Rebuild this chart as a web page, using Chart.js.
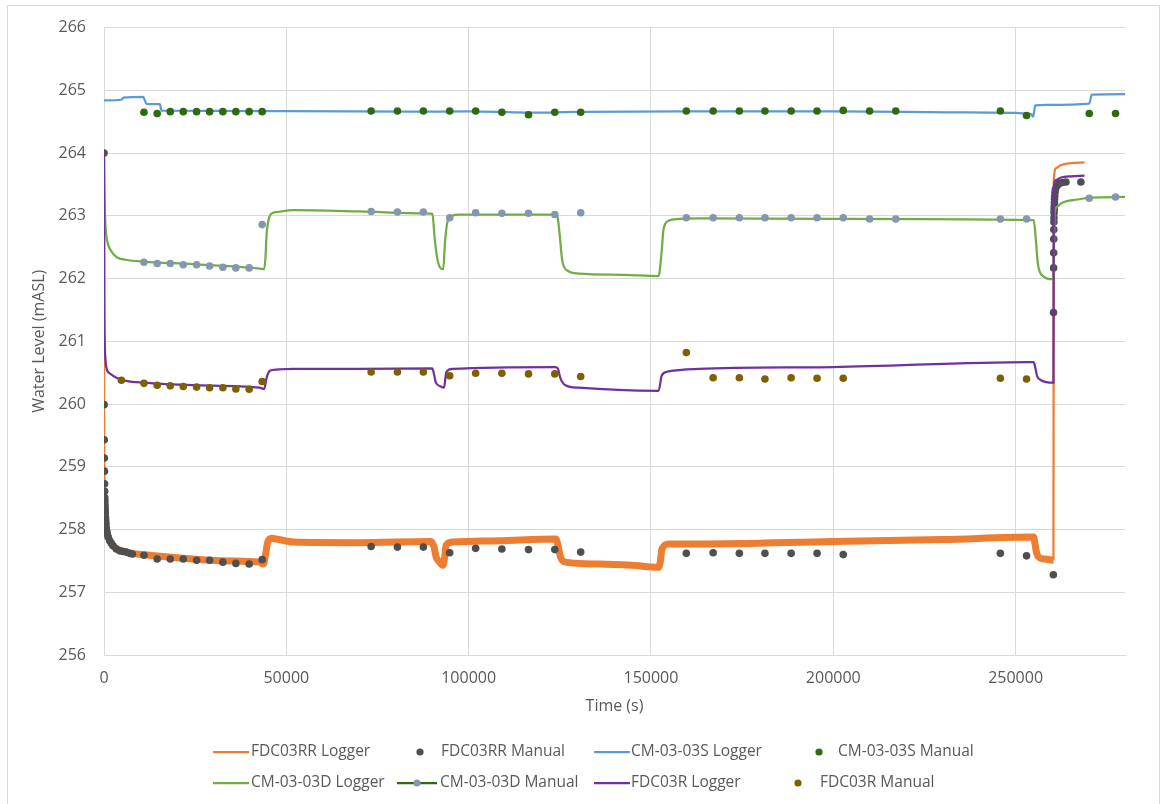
<!DOCTYPE html>
<html>
<head>
<meta charset="utf-8">
<script src="https://cdn.jsdelivr.net/npm/chart.js@4.4.1/dist/chart.umd.min.js"></script>
<style>
  html, body { margin: 0; padding: 0; background: #ffffff; }
  #wrap { position: relative; width: 1165px; height: 804px; }
  canvas { display: block; }
</style>
</head>
<body>
<div id="wrap"><canvas id="chart" width="1165" height="804"></canvas></div>
<script>
// ---- Pumping test water levels (time in s, level in mASL) ----

// FDC03RR pumping well – data logger
const fdc03rrLoggerTime = [0, 15, 30, 60, 90, 120, 180, 240, 360, 480, 600, 900, 1500, 2400, 3400, 5000, 7500,
  10760, 16000, 24350, 34000, 42700, 43700, 44300, 44900, 46000, 47200, 52000, 70000, 89700, 90500, 91100,
  92000, 92900, 93400, 93820, 95600, 108400, 123900, 124600, 125200, 126600, 135700, 144800, 152100, 152600,
  153000, 154900, 163100, 200000, 230000, 254900, 255300, 255700, 256550, 258000, 260380, 260460, 261100,
  262460, 265200, 268900];
const fdc03rrLoggerLevel = [263.90, 261.50, 260.00, 259.42, 259.13, 258.92, 258.60, 258.45, 258.25, 258.13, 258.03, 257.93, 257.83, 257.75, 257.70, 257.66, 257.62,
  257.60, 257.57, 257.53, 257.50, 257.48, 257.45, 257.60, 257.80, 257.86, 257.85, 257.80, 257.79, 257.81, 257.72, 257.56,
  257.48, 257.43, 257.55, 257.75, 257.80, 257.82, 257.85, 257.72, 257.56, 257.48, 257.45, 257.43, 257.40, 257.50,
  257.69, 257.77, 257.77, 257.81, 257.84, 257.88, 257.78, 257.64, 257.55, 257.53, 257.51, 263.55, 263.76,
  263.81, 263.84, 263.85];

// FDC03RR pumping well – manual dips
const fdc03rrManualTime = [0, 30, 60, 90, 120, 150, 180, 210, 240, 270, 300, 330, 360, 420, 480, 540, 600, 720, 900,
  1150, 1560, 2020, 2460, 3380, 4290, 5200, 6130, 7040, 7770,
  10960, 14580, 18170, 21740, 25390, 28960, 32600, 36160, 39810, 43380,
  73260, 80470, 87580, 94800, 101920, 109110, 116420, 123620, 130730,
  159700, 167050, 174240, 181260, 188440, 195550, 202730, 245820, 253000,
  260350, 260400, 260420, 260440, 260460, 260480, 260500, 260520, 260540, 260570, 260600, 260640, 260680,
  260730, 260800, 260900, 261300, 261900, 262800, 263800, 267900];
const fdc03rrManualLevel = [264.00, 259.99, 259.43, 259.14, 258.93, 258.73, 258.61, 258.51, 258.46, 258.40, 258.35, 258.30, 258.25, 258.19, 258.14, 258.09, 258.03, 257.98, 257.93,
  257.88, 257.82, 257.78, 257.74, 257.69, 257.66, 257.65, 257.64, 257.62, 257.61,
  257.59, 257.53, 257.53, 257.53, 257.51, 257.51, 257.48, 257.46, 257.45, 257.52,
  257.73, 257.72, 257.72, 257.63, 257.70, 257.69, 257.68, 257.68, 257.64,
  257.62, 257.63, 257.62, 257.62, 257.62, 257.62, 257.60, 257.62, 257.58,
  257.28, 261.46, 262.17, 262.41, 262.63, 262.78, 262.90, 262.97, 263.05, 263.10, 263.15, 263.21, 263.26,
  263.31, 263.37, 263.42, 263.47, 263.51, 263.53, 263.54, 263.54];

// CM-03-03S shallow monitoring bore – data logger
const cm0303sLoggerTime = [0, 4800, 5300, 10760, 11200, 11700, 15300, 15800, 50000, 83800, 100000, 116000, 130000,
  160000, 200000, 231500, 249900, 253000, 254300, 254800, 255400, 258800, 270200, 270900, 280000];
const cm0303sLoggerLevel = [264.84, 264.85, 264.885, 264.895, 264.84, 264.78, 264.78, 264.675, 264.67, 264.66, 264.665, 264.645, 264.655,
  264.665, 264.665, 264.65, 264.64, 264.63, 264.62, 264.58, 264.76, 264.77, 264.79, 264.93, 264.94];

// CM-03-03S – manual dips
const cm0303sManualTime = [10960, 14580, 18170, 21740, 25390, 28960, 32600, 36160, 39810, 43380,
  73260, 80470, 87580, 94800, 101920, 109110, 116420, 123620, 130730,
  159700, 167050, 174240, 181260, 188440, 195550, 202730, 209950, 217130, 245820, 253000, 270200, 277400];
const cm0303sManualLevel = [264.65, 264.63, 264.66, 264.66, 264.66, 264.66, 264.66, 264.66, 264.66, 264.66,
  264.67, 264.67, 264.67, 264.67, 264.67, 264.65, 264.61, 264.65, 264.65,
  264.67, 264.67, 264.67, 264.67, 264.67, 264.67, 264.68, 264.67, 264.67, 264.67, 264.60, 264.63, 264.63];

// CM-03-03D deep monitoring bore – data logger
const cm0303dLoggerTime = [0, 150, 400, 800, 1640, 3470, 6000, 10760, 24460, 42740, 43920, 44300, 44560, 45470, 46500,
  48200, 51800, 70000, 88230, 90040, 90780, 91600, 93050, 93510, 94150, 95520, 97350, 123810, 124300, 124900,
  125620, 126990, 130190, 142970, 152080, 152990, 153450, 154820, 157560, 163030, 200000, 254980, 255620,
  256080, 256990, 260380, 260700, 261500, 262500, 267020, 270660, 280000];
const cm0303dLoggerLevel = [263.95, 263.30, 262.85, 262.62, 262.47, 262.34, 262.30, 262.27, 262.23, 262.16, 262.15, 262.35, 262.68, 263.00, 263.05,
  263.065, 263.09, 263.07, 263.04, 263.03, 262.58, 262.26, 262.15, 262.58, 262.89, 263.00, 263.02, 263.02, 263.00, 262.74,
  262.31, 262.13, 262.08, 262.06, 262.04, 262.47, 262.79, 262.92, 262.95, 262.96, 262.95, 262.93, 262.57,
  262.25, 262.07, 261.99, 263.05, 263.15, 263.20, 263.26, 263.29, 263.30];

// CM-03-03D – manual dips
const cm0303dManualTime = [10960, 14580, 18170, 21740, 25390, 28960, 32600, 36160, 39810, 43380,
  73260, 80470, 87580, 94800, 101920, 109110, 116420, 123620, 130730,
  159700, 167050, 174240, 181260, 188440, 195550, 202730, 209950, 217130, 245820, 253000, 270200, 277400];
const cm0303dManualLevel = [262.26, 262.24, 262.24, 262.22, 262.22, 262.20, 262.18, 262.17, 262.17, 262.86,
  263.07, 263.06, 263.06, 262.97, 263.05, 263.04, 263.04, 263.02, 263.05,
  262.97, 262.97, 262.97, 262.97, 262.97, 262.97, 262.97, 262.95, 262.95, 262.95, 262.95, 263.28, 263.30];

// FDC03R observation well – data logger
const fdc03rLoggerTime = [0, 100, 200, 350, 700, 1150, 1560, 3380, 6130, 10760, 24460, 42740, 43920, 44560, 45470,
  47300, 51800, 70000, 90000, 90500, 90960, 92330, 93240, 93880, 95520, 123900, 124500, 125180, 126540, 130190,
  152080, 152990, 154820, 163030, 200000, 253800, 254980, 255400, 255890, 256990, 260380, 260460, 261100,
  262460, 265200, 268900];
const fdc03rLoggerLevel = [264.00, 261.60, 261.00, 260.75, 260.57, 260.51, 260.49, 260.42, 260.37, 260.34, 260.30, 260.26, 260.24, 260.41, 260.53,
  260.55, 260.56, 260.56, 260.57, 260.48, 260.35, 260.28, 260.26, 260.51, 260.56, 260.59, 260.56, 260.41, 260.30, 260.26,
  260.21, 260.46, 260.52, 260.56, 260.59, 260.67, 260.67, 260.58, 260.45, 260.38, 260.34, 263.45, 263.57,
  263.61, 263.63, 263.64];

// FDC03R – manual dips
const fdc03rManualTime = [4770, 10960, 14580, 18170, 21740, 25390, 28960, 32600, 36160, 39810, 43380,
  73260, 80470, 87580, 94800, 101920, 109110, 116420, 123620, 130730,
  159700, 167050, 174240, 181260, 188440, 195550, 202730, 245820, 253000];
const fdc03rManualLevel = [260.38, 260.33, 260.30, 260.29, 260.28, 260.27, 260.26, 260.26, 260.24, 260.235, 260.36,
  260.51, 260.51, 260.51, 260.45, 260.49, 260.49, 260.48, 260.48, 260.44,
  260.82, 260.42, 260.42, 260.40, 260.42, 260.41, 260.41, 260.41, 260.40];

// Axis ranges and tick values
const timeRange = [0, 280000];
const levelRange = [256, 266];
const timeTicks = [0, 50000, 100000, 150000, 200000, 250000];
const levelTicks = [256, 257, 258, 259, 260, 261, 262, 263, 264, 265, 266];

const toPoints = (t, h) => t.map((x, i) => ({ x: x, y: h[i] }));

const TEXT = '#595959';
const GRID = '#D9D9D9';
const FONT = "'Open Sans', sans-serif";

Chart.defaults.font.family = FONT;
Chart.defaults.color = TEXT;
Chart.defaults.animation = false;

function loggerSet(label, t, h, color, order, extra) {
  return Object.assign({
    label: label,
    data: toPoints(t, h),
    showLine: true,
    borderColor: color,
    backgroundColor: color,
    borderWidth: 2.25,
    pointRadius: 0,
    pointHoverRadius: 0,
    cubicInterpolationMode: 'monotone',
    order: order
  }, extra || {});
}

function manualSet(label, t, h, color, order, extra) {
  return Object.assign({
    label: label,
    data: toPoints(t, h),
    showLine: false,
    borderColor: color,
    backgroundColor: color,
    pointBackgroundColor: color,
    pointBorderWidth: 0,
    pointRadius: 3.8,
    pointHoverRadius: 3.8,
    order: order
  }, extra || {});
}

const datasets = [
  loggerSet('FDC03RR Logger', fdc03rrLoggerTime, fdc03rrLoggerLevel, '#ED7D31', 7, {
    // the logger trace is noisy while pumping; drawn as a broad band
    borderJoinStyle: 'round',
    segment: {
      borderWidth: ctx => (ctx.p0.parsed.x < 500 || ctx.p0.parsed.x >= 260300) ? 2.25 : 7
    }
  }),
  manualSet('FDC03RR Manual', fdc03rrManualTime, fdc03rrManualLevel, '#4F4F4F', 6),
  loggerSet('CM-03-03S Logger', cm0303sLoggerTime, cm0303sLoggerLevel, '#5B9BD5', 5),
  manualSet('CM-03-03S Manual', cm0303sManualTime, cm0303sManualLevel, '#2E6A0E', 4),
  loggerSet('CM-03-03D Logger', cm0303dLoggerTime, cm0303dLoggerLevel, '#70AD47', 3),
  manualSet('CM-03-03D Manual', cm0303dManualTime, cm0303dManualLevel, '#8497B0', 2, { legendLineColor: '#2E6A0E' }),
  loggerSet('FDC03R Logger', fdc03rLoggerTime, fdc03rLoggerLevel, '#7030A0', 1),
  manualSet('FDC03R Manual', fdc03rManualTime, fdc03rManualLevel, '#7F6000', 0)
];

// Legend grid: [symbol centre x, row y, text x, sample half-length]
const legendSlots = [
  [231, 752, 251, 18], [420, 752, 441, 0], [612, 752, 631, 18], [819, 752, 838, 0],
  [231, 783, 251, 18], [417, 783, 440, 20], [612, 783, 631, 18], [798, 783, 820, 0]
];

const frame = {
  id: 'frame',
  beforeDraw(chart) {
    const ctx = chart.ctx;
    ctx.save();
    ctx.fillStyle = '#ffffff';
    ctx.fillRect(0, 0, chart.width, chart.height);
    ctx.strokeStyle = GRID;
    ctx.lineWidth = 1;
    ctx.strokeRect(7.5, 5.5, 1152, 820);
    ctx.restore();
  }
};

const gridLegend = {
  id: 'gridLegend',
  afterDraw(chart) {
    const ctx = chart.ctx;
    ctx.save();
    ctx.font = "15.5px " + FONT;
    ctx.textBaseline = 'middle';
    ctx.textAlign = 'left';
    chart.data.datasets.forEach((ds, i) => {
      const [cx, cy, tx, half] = legendSlots[i];
      if (half > 0) {
        ctx.strokeStyle = ds.showLine ? ds.borderColor : ds.legendLineColor;
        ctx.lineWidth = 2.25;
        ctx.beginPath();
        ctx.moveTo(cx - half, cy);
        ctx.lineTo(cx + half, cy);
        ctx.stroke();
      }
      if (!ds.showLine) {
        ctx.fillStyle = ds.pointBackgroundColor;
        ctx.beginPath();
        ctx.arc(cx, cy, 3.6, 0, Math.PI * 2);
        ctx.fill();
      }
      ctx.fillStyle = TEXT;
      ctx.fillText(ds.label, tx, cy);
    });
    ctx.restore();
  }
};

new Chart(document.getElementById('chart'), {
  type: 'scatter',
  data: { datasets: datasets },
  plugins: [frame, gridLegend],
  options: {
    responsive: false,
    animation: false,
    layout: { padding: { left: 0, top: 24, right: 40, bottom: 88 } },
    plugins: {
      legend: { display: false },
      tooltip: { enabled: false }
    },
    scales: {
      x: {
        type: 'linear',
        min: timeRange[0],
        max: timeRange[1],
        afterBuildTicks: s => { s.ticks = timeTicks.map(v => ({ value: v })); },
        grid: { color: GRID, lineWidth: 1, drawTicks: false },
        border: { color: GRID, width: 1 },
        ticks: {
          padding: 14,
          maxRotation: 0,
          autoSkip: false,
          color: TEXT,
          font: { size: 16 },
          callback: v => String(v)
        },
        title: {
          display: true,
          text: 'Time (s)',
          color: TEXT,
          font: { size: 16 },
          padding: { top: 0, bottom: 0 }
        },
        afterFit: s => { s.height = 61; }
      },
      y: {
        type: 'linear',
        min: levelRange[0],
        max: levelRange[1],
        afterBuildTicks: s => { s.ticks = levelTicks.map(v => ({ value: v })); },
        grid: { color: GRID, lineWidth: 1, drawTicks: false },
        border: { color: GRID, width: 1 },
        ticks: {
          padding: 18,
          autoSkip: false,
          color: TEXT,
          font: { size: 16 },
          callback: v => String(v)
        },
        title: {
          display: true,
          text: 'Water Level (mASL)',
          color: TEXT,
          font: { size: 16 },
          padding: { top: 30, bottom: 0 }
        },
        afterFit: s => { s.width = 104; }
      }
    }
  }
});
</script>
</body>
</html>
